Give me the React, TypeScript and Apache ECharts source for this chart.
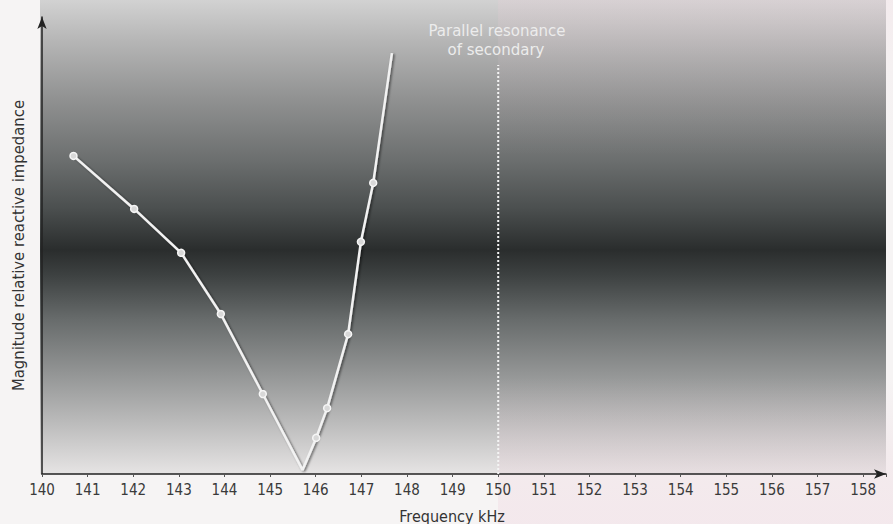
import React, { useEffect, useRef } from "react";
import * as echarts from "echarts";

// Data
const frequencyKHz = [140.69, 142.02, 143.05, 143.92, 144.84, 145.71, 146.01, 146.25, 146.71, 146.99, 147.26, 147.67];
const relativeImpedance = [69.6, 58.0, 48.4, 35.0, 17.5, 0.9, 7.9, 14.4, 30.6, 50.8, 63.7, 92.1];
const hasMarker = [true, true, true, true, true, false, true, true, true, true, true, false];
const resonanceFreq = [150, 150];
const resonanceLevel = [0, 89.5];
const xMin = 140;
const xMax = 158.5;
const xInterval = 1;
const resonanceLabel = ["Parallel resonance", "of secondary"];
const xAxisName = "Frequency kHz";
const yAxisName = "Magnitude relative reactive impedance";

const COND = "'DejaVu Sans Condensed', 'Liberation Sans Narrow', 'DejaVu Sans', sans-serif";
const SANS = "'DejaVu Sans', sans-serif";

export default function App() {
  const ref = useRef<HTMLDivElement>(null);
  useEffect(() => {
    document.body.style.margin = "0";
    if (!ref.current) return;
    const chart = echarts.init(ref.current, undefined, { renderer: "svg" });
    const lineData = frequencyKHz.map((f, i) => ({
      value: [f, relativeImpedance[i]],
      symbol: hasMarker[i] ? "circle" : "none",
    }));
    const resData = resonanceFreq.map((f, i) => [f, resonanceLevel[i]]);

    const option: any = {
      animation: false,
      backgroundColor: "#f6f4f4",
      grid: { left: 42, right: 7, top: 17, bottom: 50, outerBoundsMode: "none", containLabel: false },
      graphic: [
        {
          type: "rect",
          z: -10,
          shape: { x: 40, y: 0, width: 846, height: 474 },
          style: {
            fill: {
              type: "linear", x: 0, y: 0, x2: 0, y2: 1,
              colorStops: [
                { offset: 0, color: "#d2d2d2" },
                { offset: 0.085, color: "#b6b6b6" },
                { offset: 0.21, color: "#909191" },
                { offset: 0.34, color: "#6b6e6e" },
                { offset: 0.44, color: "#4b4f4f" },
                { offset: 0.527, color: "#2a2d2d" },
                { offset: 0.58, color: "#3d4141" },
                { offset: 0.675, color: "#686c6c" },
                { offset: 0.78, color: "#909292" },
                { offset: 0.886, color: "#b9b9b9" },
                { offset: 1, color: "#e6e4e4" },
              ],
            },
          },
        },
        {
          type: "rect",
          z: -9,
          shape: { x: 498, y: 0, width: 395, height: 524 },
          style: {
            fill: {
              type: "linear", x: 0, y: 0, x2: 0, y2: 1,
              colorStops: [
                { offset: 0, color: "rgba(235,205,215,0.22)" },
                { offset: 0.12, color: "rgba(235,205,215,0.08)" },
                { offset: 0.3, color: "rgba(235,205,215,0)" },
                { offset: 0.72, color: "rgba(235,205,215,0)" },
                { offset: 0.86, color: "rgba(235,205,215,0.2)" },
                { offset: 1, color: "rgba(240,215,225,0.4)" },
              ],
            },
          },
        },
        {
          type: "text",
          z: 10,
          x: 497,
          y: 31,
          style: {
            text: resonanceLabel[0],
            fill: "#ececec",
            font: "15px " + SANS,
            align: "center",
            verticalAlign: "middle",
          },
        },
        {
          type: "text",
          z: 10,
          x: 496,
          y: 50,
          style: {
            text: resonanceLabel[1],
            fill: "#ececec",
            font: "15px " + SANS,
            align: "center",
            verticalAlign: "middle",
          },
        },
      ],
      xAxis: {
        type: "value",
        min: xMin,
        max: xMax,
        interval: xInterval,
        name: xAxisName,
        nameLocation: "middle",
        nameGap: 34,
        nameTextStyle: { color: "#333", fontSize: 16, fontFamily: COND, padding: [0, 24, 0, 0] },
        axisLine: {
          lineStyle: { color: "#222", width: 1.5 },
          symbol: ["none", "arrow"],
          symbolSize: [7, 12],
        },
        axisTick: { show: true, length: 3, lineStyle: { color: "#555" } },
        axisLabel: {
          color: "#3a3a3a",
          fontSize: 15,
          fontFamily: COND,
          margin: 8,
          formatter: (v: number) => (Number.isInteger(v) ? String(v) : ""),
        },
        splitLine: { show: false },
      },
      yAxis: {
        type: "value",
        min: 0,
        max: 100,
        name: yAxisName,
        nameLocation: "middle",
        nameGap: 15,
        nameRotate: 90,
        nameTextStyle: { color: "#333", fontSize: 16.5, fontFamily: COND },
        axisLine: {
          show: true,
          lineStyle: { color: "#222", width: 1.5 },
          symbol: ["none", "arrow"],
          symbolSize: [7, 12],
        },
        axisTick: { show: false },
        axisLabel: { show: false },
        splitLine: { show: false },
      },
      series: [
        {
          type: "line",
          data: resData,
          symbol: "none",
          z: 3,
          lineStyle: { color: "#f4f4f4", width: 2, type: [2, 2] },
        },
        {
          type: "line",
          data: lineData,
          symbolSize: 7,
          z: 4,
          itemStyle: { color: "#d8d8d8", borderColor: "#f6f6f6", borderWidth: 1.5 },
          lineStyle: {
            color: "#f2f2f2",
            width: 2.5,
            shadowColor: "rgba(0,0,0,0.55)",
            shadowBlur: 2,
            shadowOffsetX: 1.5,
            shadowOffsetY: 1,
          },
        },
      ],
    };
    chart.setOption(option);
    return () => chart.dispose();
  }, []);
  return <div ref={ref} style={{ width: 893, height: 524 }} />;
}
